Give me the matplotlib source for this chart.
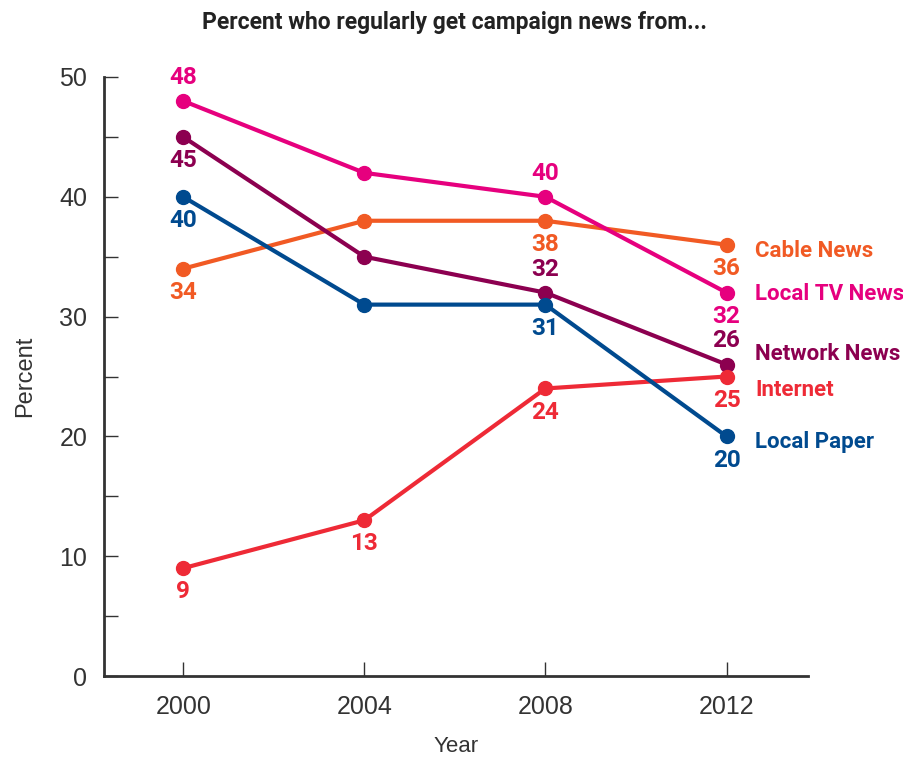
import numpy as np
import matplotlib
matplotlib.use('Agg')
import matplotlib.pyplot as plt
from matplotlib.ticker import MultipleLocator

plt.rcParams['font.family'] = ['Liberation Sans', 'DejaVu Sans']
COND = ['Roboto', 'Liberation Sans', 'DejaVu Sans']

# data
years = [2000, 2004, 2008, 2012]
series = ['Cable News', 'Local TV News', 'Network News', 'Internet', 'Local Paper']
cable = [34, 38, 38, 36]
local_tv = [48, 42, 40, 32]
network = [45, 35, 32, 26]
internet = [9, 13, 24, 25]
local_paper = [40, 31, 31, 20]
values = [cable, local_tv, network, internet, local_paper]
colors = ['#F15A24', '#E6007E', '#8C0050', '#EE2A36', '#004A8F']

# which points carry a number label, and above (+) or below (-)
label_pos = [
    [-1, 0, -1, -1],   # cable
    [1, 0, 1, -1],     # local tv
    [-1, 0, 1, 1],     # network
    [-1, -1, -1, -1],  # internet
    [-1, 0, -1, -1],   # local paper
]
# vertical nudge (px) of the series name at the right end
name_dy = [-6, -1, 11, -13, -6]

fig = plt.figure(figsize=(9.04, 7.59), dpi=100)
ax = fig.add_axes([104 / 904, 1 - 676 / 759, 704 / 904, 599 / 759])

for name, vals, col, lp, dy in zip(series, values, colors, label_pos, name_dy):
    ax.plot(years, vals, '-o', color=col, lw=3, ms=10, zorder=3)
    for x, v, p in zip(years, vals, lp):
        if p == 0:
            continue
        ax.annotate(str(v), (x, v), xytext=(0, 17 * p), textcoords='offset points',
                    ha='center', va='center', color=col, fontsize=17.5,
                    fontweight='bold', family=COND)
    ax.annotate(name, (years[-1], vals[-1]), xytext=(20.5, dy * 0.72),
                textcoords='offset points', ha='left', va='center', color=col,
                fontsize=16, fontweight='bold', family=COND)

ax.set_xlim(1998.25, 2013.8)
ax.set_ylim(0, 50)
ax.set_xticks(years)
ax.yaxis.set_major_locator(MultipleLocator(10))
ax.yaxis.set_minor_locator(MultipleLocator(5))
ax.tick_params(axis='both', which='both', direction='in', length=10, width=1,
               color='#333333', labelsize=18, labelcolor='#333333')
ax.tick_params(axis='x', pad=14)
ax.tick_params(axis='y', pad=12)

for s in ['top', 'right']:
    ax.spines[s].set_visible(False)
for s in ['left', 'bottom']:
    ax.spines[s].set_linewidth(2)
    ax.spines[s].set_color('#333333')

ax.set_xlabel('Year', fontsize=16, color='#333333', labelpad=12)
ax.set_ylabel('Percent', fontsize=17, color='#333333', labelpad=17)

fig.text(455 / 904, 1 - 22 / 759, 'Percent who regularly get campaign news from...',
         ha='center', va='center', fontsize=16.5, fontweight='bold',
         color='#222222', family=COND)

plt.savefig('out.png', dpi=100)
plt.close()
